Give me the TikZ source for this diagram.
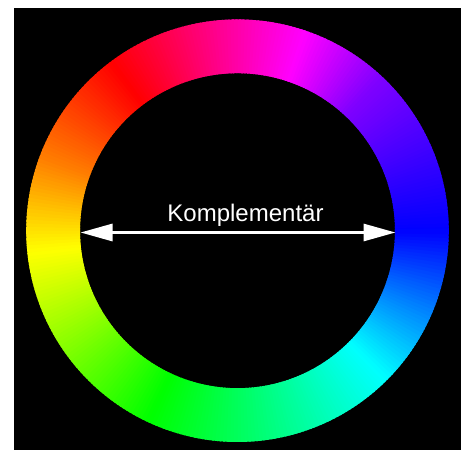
\documentclass[tikz,border=0pt]{standalone}
\usepackage{fontspec}
\setmainfont{Liberation Sans}
\usetikzlibrary{arrows.meta}
\tikzset{
  twoarrow/.style={white, line width=3pt, {Triangle[length=32pt,width=17pt]}-{Triangle[length=32pt,width=17pt]}},
  label/.style={text=white, font=\fontsize{24}{28}\selectfont, anchor=base, inner sep=0pt}
}
\begin{document}
\begin{tikzpicture}[x=1pt,y=1pt]
\fill[white] (0,0) rectangle (461,450);
\useasboundingbox (0,0) rectangle (461,450);
\fill[black] (14,0) rectangle (461,442);
\begin{scope}[shift={(237.5,219.3)}]
\foreach \aa/\ab/\ha/\hb in {0/47/240/270, 47/71/270/300, 71/127/300/360, 127/160/360/390, 160/186/390/420, 186/245/420/480, 245/315/480/540, 315/360/540/600}{
  \pgfmathtruncatemacro\n{\ab-\aa-1}
  \foreach \k in {0,...,\n}{
    \pgfmathsetmacro\ang{\aa+\k}
    \pgfmathsetmacro\angb{\aa+\k+1.6}
    \pgfmathsetmacro\h{mod(\ha+(\hb-\ha)*(\k+0.5)/(\ab-\aa),360)/360}
    \definecolor{wc}{hsb}{\h,1,1}
    \fill[wc] (\ang:157.5) arc[start angle=\ang,end angle=\angb,radius=157.5] -- (\angb:211.3) arc[start angle=\angb,end angle=\ang,radius=211.3] -- cycle;
  }
}
\end{scope}
\coordinate (L) at (80.5,217.5);
\coordinate (R) at (395.5,217.5);
\draw[twoarrow] (L) -- (R);
\node[label] (lbl) at (245.5,228.5) {Komplementär};
\end{tikzpicture}
\end{document}
